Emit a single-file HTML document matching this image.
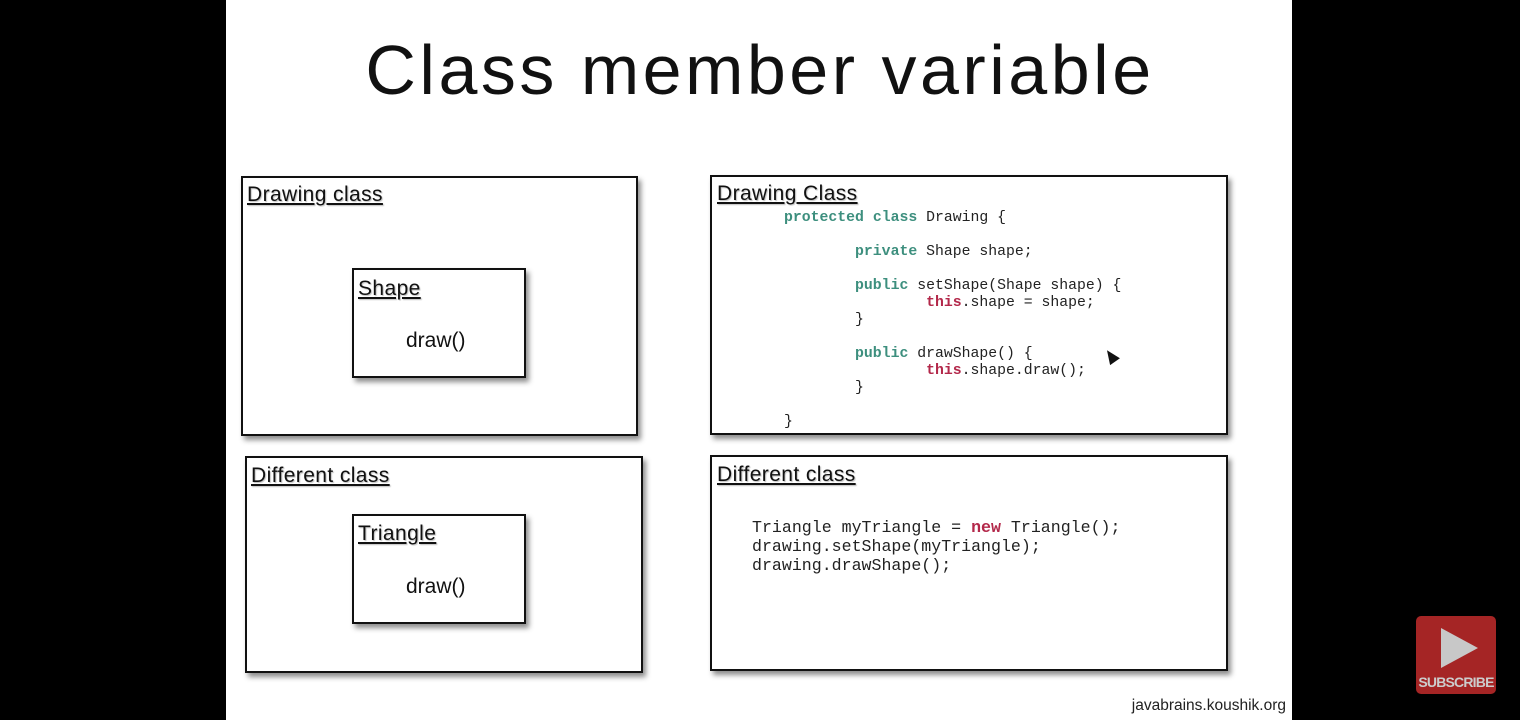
<!DOCTYPE html>
<html><head><style>
body{margin:0;width:1520px;height:720px;background:#000;position:relative;overflow:hidden;font-family:"Liberation Sans",sans-serif}
.slide{position:absolute;left:226px;top:0;width:1066px;height:720px;background:#fff}
.box{position:absolute;border:2px solid #111;background:#fff;box-shadow:3px 4px 5px rgba(0,0,0,.45);box-sizing:border-box}
.lbl{position:absolute;font-size:21px;letter-spacing:0.4px;text-decoration:underline;color:#111;white-space:nowrap;text-shadow:1px 1px 1px rgba(0,0,0,.25)}
.m{position:absolute;font-size:21px;color:#111}
pre{position:absolute;margin:0;font-family:"Liberation Mono","DejaVu Sans Mono",monospace;color:#222}
.k{color:#3d8f7e;font-weight:bold}.r{color:#b3284a;font-weight:bold}
</style></head><body>
<div class="slide"></div>
<div style="position:absolute;left:0;width:1520px;top:30px;text-align:center;font-size:70px;letter-spacing:3.5px;color:#111">Class member variable</div>

<div class="box" style="left:241px;top:176px;width:397px;height:260px"></div>
<div class="lbl" style="left:247px;top:183px">Drawing class</div>
<div class="box" style="left:352px;top:268px;width:174px;height:110px"></div>
<div class="lbl" style="left:358px;top:277px">Shape</div>
<div class="m" style="left:406px;top:329px">draw()</div>

<div class="box" style="left:245px;top:456px;width:398px;height:217px"></div>
<div class="lbl" style="left:251px;top:464px">Different class</div>
<div class="box" style="left:352px;top:514px;width:174px;height:110px"></div>
<div class="lbl" style="left:358px;top:522px">Triangle</div>
<div class="m" style="left:406px;top:575px">draw()</div>

<div class="box" style="left:710px;top:175px;width:518px;height:260px"></div>
<div class="lbl" style="left:717px;top:182px">Drawing Class</div>
<pre style="left:784px;top:210px;font-size:14.8px;line-height:17px"><span class="k">protected</span> <span class="k">class</span> Drawing {

        <span class="k">private</span> Shape shape;

        <span class="k">public</span> setShape(Shape shape) {
                <span class="r">this</span>.shape = shape;
        }

        <span class="k">public</span> drawShape() {
                <span class="r">this</span>.shape.draw();
        }

}</pre>
<div style="position:absolute;left:1105px;top:349px;width:0;height:0;border-left:6px solid transparent;border-right:6px solid transparent;border-bottom:14px solid #111;transform:rotate(-35deg)"></div>

<div class="box" style="left:710px;top:455px;width:518px;height:216px"></div>
<div class="lbl" style="left:717px;top:463px">Different class</div>
<pre style="left:752px;top:518px;font-size:16.6px;line-height:19px">Triangle myTriangle = <span class="r">new</span> Triangle();
drawing.setShape(myTriangle);
drawing.drawShape();</pre>

<div style="position:absolute;right:234px;top:697px;font-size:15.5px;color:#222">javabrains.koushik.org</div>

<div style="position:absolute;left:1416px;top:616px;width:80px;height:78px;background:#a52525;border-radius:5px"></div>
<div style="position:absolute;left:1441px;top:628px;width:0;height:0;border-top:20px solid transparent;border-bottom:20px solid transparent;border-left:37px solid #c8c8c8"></div>
<div style="position:absolute;left:1416px;top:674px;width:80px;text-align:center;font-size:14px;font-weight:bold;color:#ccc;letter-spacing:-0.8px">SUBSCRIBE</div>
</body></html>
